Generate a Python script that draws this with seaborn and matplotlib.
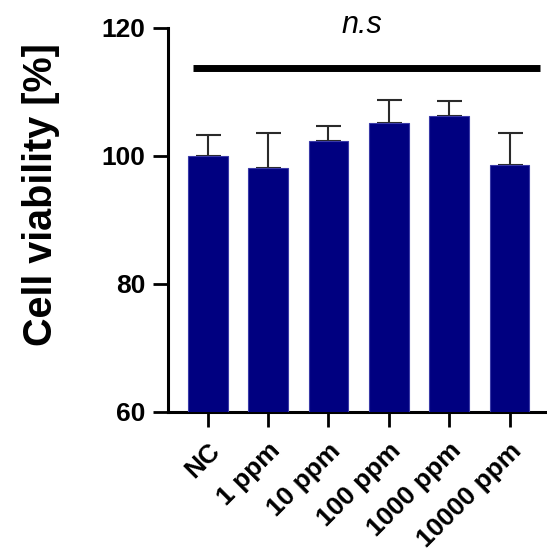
import pandas as pd
import matplotlib
matplotlib.use('Agg')
import matplotlib.pyplot as plt
import seaborn as sns

# dados
grupos = ['NC', '1 ppm', '10 ppm', '100 ppm', '1000 ppm', '10000 ppm']
viabilidade = [100.0, 98.1, 102.3, 105.1, 106.3, 98.6]
desvio = [3.2, 5.4, 2.4, 3.6, 2.2, 5.0]
yticks = [60, 80, 100, 120]
barra_ns = 113.75

df = pd.DataFrame({'grupo': grupos, 'viab': viabilidade, 'sd': desvio})

sns.set_style('ticks')
plt.rcParams['font.family'] = ['Liberation Sans', 'DejaVu Sans']
plt.rcParams['text.color'] = 'black'
plt.rcParams['axes.labelcolor'] = 'black'
plt.rcParams['xtick.color'] = 'black'
plt.rcParams['ytick.color'] = 'black'
plt.rcParams['axes.edgecolor'] = 'black'

fig = plt.figure(figsize=(5.47, 5.56), dpi=100)
ax = fig.add_axes([0.307, 0.259, 0.693, 0.691])

sns.barplot(data=df, x='grupo', y='viab', color='#000080', width=0.66,
            edgecolor='#3a3aa8', linewidth=0.8, saturation=1, ax=ax, zorder=3)
ax.errorbar(range(len(grupos)), df['viab'], yerr=[[0] * len(grupos), df['sd']],
            fmt='none', ecolor='#2a2a2a', elinewidth=1.5, capsize=9, capthick=1.5, zorder=2)

ax.set_ylim(60, 120)
ax.set_xlim(-0.66, 5.62)
ax.set_yticks(yticks)

# linha de significância
ax.plot([-0.25, 5.5], [barra_ns, barra_ns], color='black', lw=5, clip_on=False, solid_capstyle='butt')
ax.text(2.56, 119.2, 'n.s', ha='center', va='baseline', fontsize=22, style='italic')

ax.set_xlabel('')
ax.set_ylabel('Cell viability [%]', fontsize=28.5, fontweight='bold')
ax.yaxis.set_label_coords(-0.285, 0.565)
ax.tick_params(axis='both', width=2, length=11, labelsize=19)
ax.tick_params(axis='y', pad=5)
ax.tick_params(axis='x', pad=8)
for lab in ax.get_yticklabels():
    lab.set_fontweight('bold')
ax.set_xticks(range(len(grupos)))
ax.set_xticklabels(grupos, rotation=45, ha='right', rotation_mode='anchor', fontweight='bold')
for s in ['left', 'bottom']:
    ax.spines[s].set_linewidth(2.2)
sns.despine(ax=ax)

fig.savefig('out.png', dpi=100)
